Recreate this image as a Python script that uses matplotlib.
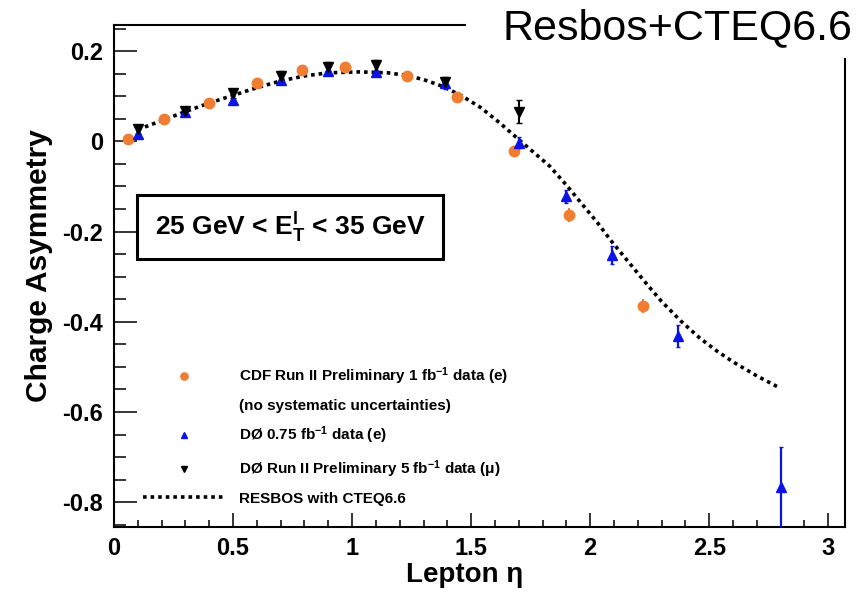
import matplotlib
matplotlib.use("Agg")
import matplotlib.pyplot as plt
from matplotlib.lines import Line2D
from matplotlib.patches import Rectangle
from matplotlib.ticker import MultipleLocator

plt.rcParams["font.family"] = ["Liberation Sans", "DejaVu Sans"]
plt.rcParams["font.weight"] = "bold"
plt.rcParams["mathtext.fontset"] = "custom"
plt.rcParams["mathtext.bf"] = "Liberation Sans:bold"
plt.rcParams["mathtext.rm"] = "Liberation Sans:bold"
plt.rcParams["mathtext.default"] = "bf"

# CDF Run II, 1 fb^-1, electrons (stat. only)
cdf_eta = [0.06, 0.21, 0.40, 0.60, 0.79, 0.97, 1.23, 1.44, 1.68, 1.91, 2.22]
cdf_asym = [0.005, 0.050, 0.085, 0.129, 0.158, 0.165, 0.145, 0.099, -0.021, -0.163, -0.365]
cdf_err = [0.005, 0.005, 0.005, 0.005, 0.005, 0.005, 0.005, 0.006, 0.010, 0.015, 0.015]

# D0 0.75 fb^-1, electrons
d0e_eta = [0.10, 0.30, 0.50, 0.70, 0.90, 1.10, 1.39, 1.70, 1.90, 2.09, 2.37, 2.80]
d0e_asym = [0.017, 0.066, 0.092, 0.136, 0.156, 0.154, 0.129, -0.003, -0.122, -0.251, -0.432, -0.767]
d0e_err = [0.008, 0.008, 0.008, 0.008, 0.008, 0.010, 0.012, 0.012, 0.015, 0.020, 0.025, 0.090]

# D0 Run II 5 fb^-1, muons
d0m_eta = [0.10, 0.30, 0.50, 0.70, 0.90, 1.10, 1.39, 1.70]
d0m_asym = [0.027, 0.068, 0.107, 0.145, 0.165, 0.169, 0.132, 0.066]
d0m_err = [0.010, 0.008, 0.010, 0.010, 0.010, 0.012, 0.010, 0.026]

# RESBOS + CTEQ6.6 prediction
resbos_eta = [0.10, 0.20, 0.30, 0.40, 0.50, 0.60, 0.70, 0.80, 0.90, 1.03, 1.15, 1.23,
              1.30, 1.38, 1.46, 1.54, 1.62, 1.70, 1.83, 1.90, 2.03, 2.09, 2.24, 2.30,
              2.38, 2.46, 2.53, 2.60, 2.70, 2.79]
resbos_asym = [0.026, 0.046, 0.066, 0.085, 0.102, 0.119, 0.134, 0.145, 0.152, 0.154,
               0.152, 0.146, 0.137, 0.122, 0.101, 0.075, 0.041, 0.004, -0.055, -0.097,
               -0.180, -0.222, -0.318, -0.355, -0.398, -0.436, -0.464, -0.489, -0.520,
               -0.545]

legend_labels = [
    "CDF Run II Preliminary 1 fb$^{-1}$ data (e)",
    "(no systematic uncertainties)",
    "DØ 0.75 fb$^{-1}$ data (e)",
    "DØ Run II Preliminary 5 fb$^{-1}$ data (μ)",
    "RESBOS with CTEQ6.6",
]

fig = plt.figure(figsize=(8.63, 5.95), dpi=100)
ax = fig.add_axes([0.1321, 0.1143, 0.847, 0.8437])

orange = "#f07d32"
blue = "#0a14e6"

curve, = ax.plot(resbos_eta, resbos_asym, color="black", lw=2.6,
                 linestyle=(0, (1.0, 1.1)), zorder=2)
cdf = ax.errorbar(cdf_eta, cdf_asym, yerr=cdf_err, fmt="o", color=orange,
                  ms=7.5, elinewidth=1.5, capsize=0, zorder=3)
d0e = ax.errorbar(d0e_eta, d0e_asym, yerr=d0e_err, fmt="^", color=blue,
                  ms=6.5, elinewidth=1.6, capsize=1.5, zorder=4)
d0m = ax.errorbar(d0m_eta, d0m_asym, yerr=d0m_err, fmt="v", color="black",
                  ms=6.5, elinewidth=1.5, capsize=2, zorder=4)

ax.set_xlim(0, 3.07)
ax.set_ylim(-0.855, 0.258)

ax.xaxis.set_major_locator(MultipleLocator(0.5))
ax.xaxis.set_minor_locator(MultipleLocator(0.1))
ax.yaxis.set_major_locator(MultipleLocator(0.2))
ax.yaxis.set_minor_locator(MultipleLocator(0.05))
ax.xaxis.set_major_formatter(plt.FuncFormatter(lambda v, p: f"{v:g}"))
ax.yaxis.set_major_formatter(plt.FuncFormatter(lambda v, p: f"{v:g}" if abs(v) > 1e-9 else "0"))

ax.tick_params(axis="y", which="major", direction="in", length=16.5, width=1.1,
               labelsize=17, pad=8)
ax.tick_params(axis="y", which="minor", direction="in", length=8.6, width=1.1)
ax.tick_params(axis="x", which="major", direction="in", length=10, width=1.1,
               labelsize=17, pad=7)
ax.tick_params(axis="x", which="minor", direction="in", length=5, width=1.1)
for s in ax.spines.values():
    s.set_linewidth(1.5)

ax.set_ylabel("Charge Asymmetry", fontsize=21.5, fontweight="bold")
ax.yaxis.set_label_coords(-0.084, 0.52)
ax.set_xlabel("Lepton η", fontsize=20, fontweight="bold")
ax.xaxis.set_label_coords(0.48, -0.07)

# kinematic range box
ax.add_patch(Rectangle((0.0315, 0.534), 0.4186, 0.1275, transform=ax.transAxes,
                       fill=False, lw=2.2, edgecolor="black", zorder=5))
ax.text(0.241, 0.598, "25 GeV < E$_T^l$ < 35 GeV", transform=ax.transAxes,
        ha="center", va="center", fontsize=19, fontweight="bold", zorder=6)

blank = Line2D([], [], linestyle="none", marker="none")
leg = ax.legend([cdf[0], blank, d0e[0], d0m[0], curve], legend_labels,
                loc="upper left", bbox_to_anchor=(0.04, 0.322), frameon=False,
                fontsize=11, numpoints=1, markerscale=0.7, handlelength=5.4,
                handletextpad=0.85, labelspacing=0.78, borderpad=0,
                borderaxespad=0)
for t in leg.get_texts():
    t.set_fontweight("bold")

# white label block over the top right corner of the frame
fig.add_artist(Rectangle((466 / 863, 1 - 58 / 595), (863 - 466) / 863, 58 / 595,
                         transform=fig.transFigure, facecolor="white",
                         edgecolor="none", zorder=10))
fig.text(852 / 863, 1 - 28 / 595, "Resbos+CTEQ6.6", ha="right", va="center",
         fontsize=31, fontweight="normal", zorder=11)

fig.savefig("out.png", dpi=100)
